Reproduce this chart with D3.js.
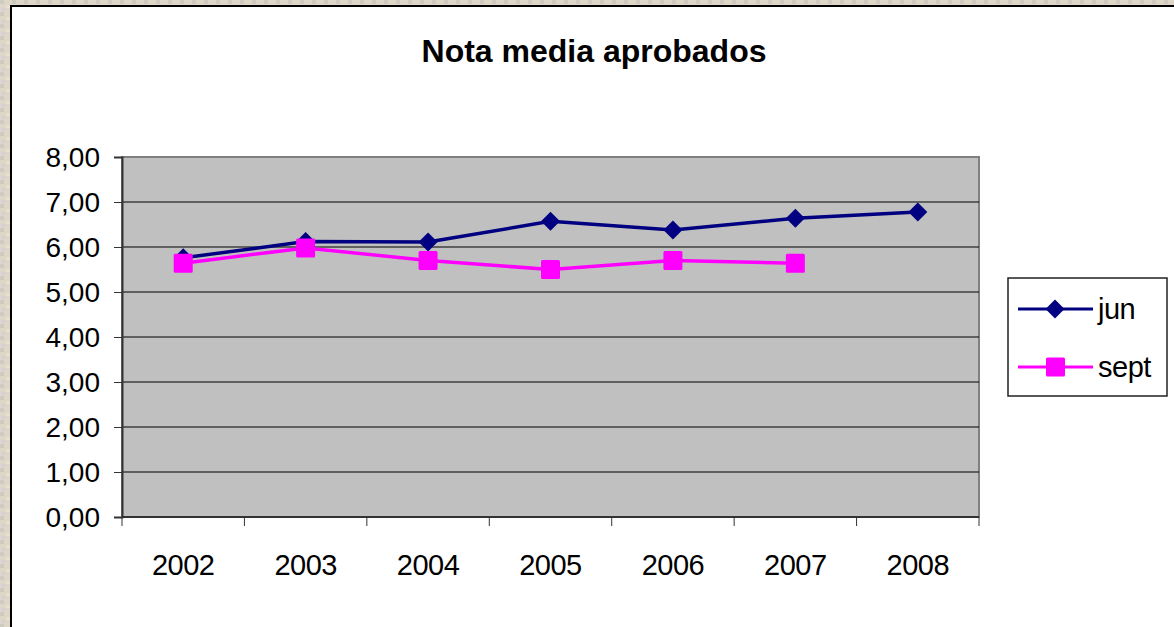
<!DOCTYPE html>
<html>
<head>
<meta charset="utf-8">
<script src="https://cdn.jsdelivr.net/npm/d3@7"></script>
<style>
	body { margin: 0; background: #ddd6c6; }
	svg { display: block; }
	text { font-family: "Liberation Sans", Arial, sans-serif; fill: #000; }
</style>
</head>
<body>
<div id="chart"></div>
<script>
// Chart data
var years = ["2002", "2003", "2004", "2005", "2006", "2007", "2008"];
var junValues = [5.76, 6.12, 6.11, 6.57, 6.38, 6.64, 6.78];
var septValues = [5.64, 5.98, 5.70, 5.50, 5.70, 5.64];
var yTicks = [0, 1, 2, 3, 4, 5, 6, 7, 8];
var seriesNames = ["jun", "sept"];
var titleText = "Nota media aprobados";

var width = 1174, height = 627;
var plot = {left: 122, top: 157, right: 979, bottom: 517};

var svg = d3.select("#chart").append("svg")
	.attr("width", width)
	.attr("height", height);

// stone-ish backdrop with a few flecks
var pat = svg.append("defs").append("pattern")
	.attr("id", "stone")
	.attr("width", 12).attr("height", 12)
	.attr("patternUnits", "userSpaceOnUse");
pat.append("rect").attr("width", 12).attr("height", 12).attr("fill", "#ded7c7");
pat.append("rect").attr("x", 0).attr("y", 0).attr("width", 4).attr("height", 4).attr("fill", "#cfcac0");
pat.append("rect").attr("x", 6).attr("y", 5).attr("width", 4).attr("height", 3).attr("fill", "#e8e0cc");
pat.append("rect").attr("x", 2).attr("y", 8).attr("width", 3).attr("height", 3).attr("fill", "#d4cfd6");
svg.append("rect").attr("width", width).attr("height", height).attr("fill", "url(#stone)");

// white chart area
svg.append("rect")
	.attr("x", 11).attr("y", 6)
	.attr("width", width + 10).attr("height", height + 10)
	.attr("fill", "#fff")
	.attr("stroke", "#000")
	.attr("stroke-width", 2);

svg.append("text")
	.attr("x", 594).attr("y", 62)
	.attr("text-anchor", "middle")
	.attr("font-size", 32)
	.attr("font-weight", "bold")
	.text(titleText);

var x = d3.scaleBand().domain(years).range([plot.left, plot.right]);
var y = d3.scaleLinear().domain([0, 8]).range([plot.bottom, plot.top]);

// plot background
svg.append("rect")
	.attr("x", plot.left).attr("y", plot.top)
	.attr("width", plot.right - plot.left).attr("height", plot.bottom - plot.top)
	.attr("fill", "#c0c0c0")
	.attr("stroke", "#808080")
	.attr("stroke-width", 2);

// gridlines
svg.append("g").selectAll("line")
	.data(yTicks.slice(1, -1))
	.enter().append("line")
	.attr("x1", plot.left).attr("x2", plot.right)
	.attr("y1", function(d){ return y(d); })
	.attr("y2", function(d){ return y(d); })
	.attr("stroke", "#000")
	.attr("stroke-width", 1);

// y axis
var yAxis = svg.append("g")
	.attr("transform", "translate(" + plot.left + ",0)")
	.call(d3.axisLeft(y).tickValues(yTicks).tickSize(8).tickPadding(14)
		.tickFormat(function(d){ return d3.format(".2f")(d).replace(".", ","); }));
yAxis.select(".domain").attr("stroke", "#333").attr("stroke-width", 2);
yAxis.selectAll(".tick line").attr("stroke", "#333");
yAxis.selectAll("text").attr("font-size", 28).attr("font-family", "Liberation Sans, Arial, sans-serif").attr("dy", "0.35em");

// x axis: ticks sit on the band edges
var xAxis = svg.append("g")
	.attr("transform", "translate(0," + plot.bottom + ")");
xAxis.append("line")
	.attr("x1", plot.left).attr("x2", plot.right)
	.attr("stroke", "#333").attr("stroke-width", 2);
var edges = years.map(function(d){ return x(d); }).concat([x.range()[1]]);
xAxis.selectAll(".edge").data(edges).enter().append("line")
	.attr("class", "edge")
	.attr("x1", function(d){ return d; }).attr("x2", function(d){ return d; })
	.attr("y1", 0).attr("y2", 9)
	.attr("stroke", "#333");
xAxis.selectAll(".lbl").data(years).enter().append("text")
	.attr("class", "lbl")
	.attr("x", function(d){ return x(d) + x.bandwidth() / 2; })
	.attr("y", 58)
	.attr("text-anchor", "middle")
	.attr("font-size", 29)
	.attr("letter-spacing", -0.5)
	.text(function(d){ return d; });

var cx = function(d, i){ return x(years[i]) + x.bandwidth() / 2; };
var line = d3.line()
	.x(function(d, i){ return cx(d, i); })
	.y(function(d){ return y(d); });

var junColor = "#000080", septColor = "#ff00ff";
var diamond = function(s){ return "M0," + (-s) + "L" + s + ",0L0," + s + "L" + (-s) + ",0Z"; };

// jun series
svg.append("path").datum(junValues)
	.attr("d", line).attr("fill", "none")
	.attr("stroke", junColor).attr("stroke-width", 3.5);
svg.append("g").selectAll("path")
	.data(junValues).enter().append("path")
	.attr("transform", function(d, i){ return "translate(" + cx(d, i) + "," + y(d) + ")"; })
	.attr("d", diamond(9.5))
	.attr("fill", junColor);

// sept series
svg.append("path").datum(septValues)
	.attr("d", line).attr("fill", "none")
	.attr("stroke", septColor).attr("stroke-width", 3.5);
svg.append("g").selectAll("rect")
	.data(septValues).enter().append("rect")
	.attr("x", function(d, i){ return cx(d, i) - 9.5; })
	.attr("y", function(d){ return y(d) - 9.5; })
	.attr("width", 19).attr("height", 19)
	.attr("rx", 1.5)
	.attr("fill", septColor);

// legend
var legend = svg.append("g");
legend.append("rect")
	.attr("x", 1008).attr("y", 278)
	.attr("width", 159).attr("height", 118)
	.attr("fill", "#fff")
	.attr("stroke", "#222").attr("stroke-width", 1.5);
var legColors = [junColor, septColor];
seriesNames.forEach(function(name, i){
	var ly = 309 + i * 58;
	legend.append("line")
		.attr("x1", 1018).attr("x2", 1093)
		.attr("y1", ly).attr("y2", ly)
		.attr("stroke", legColors[i]).attr("stroke-width", 3);
	if (i === 0) {
		legend.append("path")
			.attr("transform", "translate(1055," + ly + ")")
			.attr("d", diamond(9.5))
			.attr("fill", legColors[i]);
	} else {
		legend.append("rect")
			.attr("x", 1046).attr("y", ly - 9.5)
			.attr("width", 19).attr("height", 19)
			.attr("rx", 1.5)
			.attr("fill", legColors[i]);
	}
	legend.append("text")
		.attr("x", 1098).attr("y", ly + 10)
		.attr("font-size", 29)
		.attr("letter-spacing", -0.5)
		.text(name);
});
</script>
</body>
</html>
